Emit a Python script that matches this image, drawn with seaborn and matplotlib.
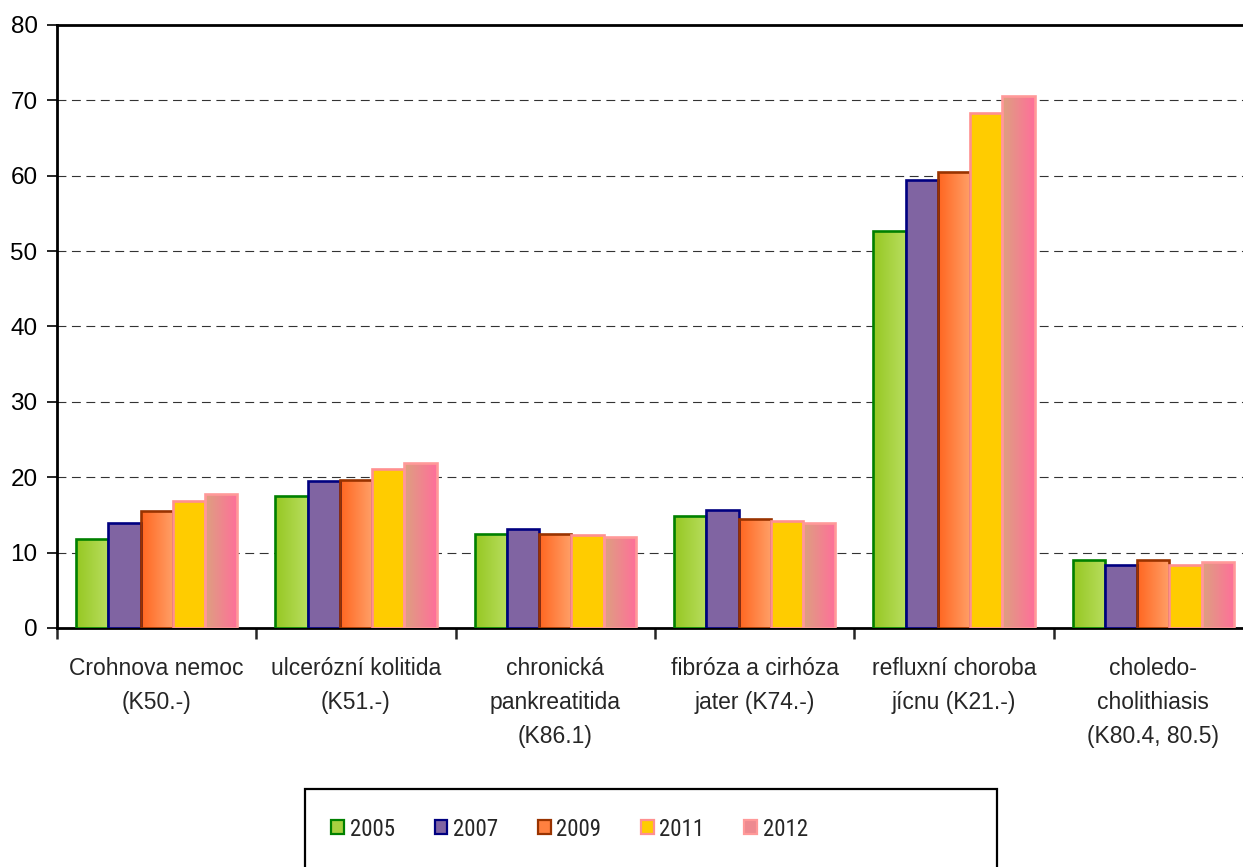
import numpy as np
import pandas as pd
import matplotlib
matplotlib.use("Agg")
import matplotlib.pyplot as plt
import seaborn as sns
from matplotlib.colors import LinearSegmentedColormap
from matplotlib.patches import Patch, Rectangle
from matplotlib import font_manager
from matplotlib.font_manager import FontProperties

# ---------------- data ----------------
categories = [
    "Crohnova nemoc\n(K50.-)",
    "ulcerózní kolitida\n(K51.-)",
    "chronická\npankreatitida\n(K86.1)",
    "fibróza a cirhóza\njater (K74.-)",
    "refluxní choroba\njícnu (K21.-)",
    "choledo-\ncholithiasis\n(K80.4, 80.5)",
]
years = ["2005", "2007", "2009", "2011", "2012"]
v2005 = [11.8, 17.5, 12.5, 14.9, 52.7, 9.0]
v2007 = [13.9, 19.5, 13.1, 15.7, 59.4, 8.3]
v2009 = [15.5, 19.6, 12.5, 14.5, 60.5, 9.0]
v2011 = [16.9, 21.1, 12.3, 14.2, 68.3, 8.3]
v2012 = [17.8, 21.9, 12.1, 13.9, 70.6, 8.7]
yticks = [0, 10, 20, 30, 40, 50, 60, 70, 80]

series = [v2005, v2007, v2009, v2011, v2012]
df = pd.DataFrame({
    "category": np.repeat([categories], len(years), axis=0).ravel(),
    "year": np.repeat(years, len(categories)),
    "value": np.concatenate(series),
})

# ---------------- style ----------------
sns.set_style("white")
plt.rcParams["font.family"] = ["Liberation Sans", "DejaVu Sans"]

# look for a narrow / condensed sans face for the legend
narrow_file = None
for pref in ["Liberation Sans Narrow", "Arial Narrow", "Roboto Condensed",
             "Open Sans Condensed", "DejaVu Sans Condensed", "Noto Sans Condensed"]:
    for f in font_manager.fontManager.ttflist:
        fn = f.fname.lower()
        if (f.name == pref or pref.replace(" ", "").lower() in fn.replace("-", "").replace("_", "")) \
                and "bold" not in fn and "italic" not in fn and "oblique" not in fn:
            narrow_file = f.fname
            break
    if narrow_file:
        break
if narrow_file is None:
    for f in font_manager.fontManager.ttflist:
        fn = f.fname.lower()
        if ("condensed" in fn or "narrow" in fn) and "bold" not in fn and "italic" not in fn \
                and "oblique" not in fn and "light" not in fn and "semi" not in fn:
            narrow_file = f.fname
            break

if narrow_file:
    leg_prop = FontProperties(fname=narrow_file, size=16.5)
    colspace = 1.72
else:
    leg_prop = FontProperties(family=["Liberation Sans", "DejaVu Sans"], size=15)
    colspace = 1.85

flat = {"2005": "#A8D040", "2007": "#8064A2", "2009": "#FF8040",
        "2011": "#FFCC00", "2012": "#EE8A90"}
edges = {"2005": "#008000", "2007": "#000080", "2009": "#993300",
         "2011": "#FF9090", "2012": "#FF9999"}
grads = {"2005": ("#96C823", "#B8DD5E"),
         "2009": ("#FF6620", "#FFA068"),
         "2012": ("#DDA080", "#FF6F9A")}

fig = plt.figure(figsize=(12.43, 8.67), dpi=100)
ax = fig.add_axes([57 / 1243, 239 / 867, 1196 / 1243, 603 / 867])

sns.barplot(data=df, x="category", y="value", hue="year", hue_order=years,
            order=categories, palette=flat, width=0.81, gap=0,
            legend=False, ax=ax, errorbar=None, saturation=1)

# edges + gradients
for year, cont in zip(years, ax.containers):
    for bar in cont:
        bar.set_edgecolor(edges[year])
        bar.set_linewidth(1.9)
        bar.set_zorder(3)
        if year in grads:
            cmap = LinearSegmentedColormap.from_list(year, grads[year])
            x0, y0 = bar.get_x(), bar.get_y()
            w, h = bar.get_width(), bar.get_height()
            im = ax.imshow(np.linspace(0, 1, 64).reshape(1, -1), cmap=cmap,
                           extent=[x0, x0 + w, y0, y0 + h], aspect="auto",
                           interpolation="bilinear", zorder=2.9)
            im.set_clip_path(bar)
            bar.set_facecolor("none")

ax.set_xlim(-0.5, 5.5)
ax.set_ylim(0, 80)
ax.set_aspect("auto")

# grid
for yv in yticks[1:-1]:
    ax.axhline(yv, color="#333333", lw=0.8, ls=(0, (8, 5)), zorder=1)

for s in ["left", "bottom", "top", "right"]:
    ax.spines[s].set_visible(True)
    ax.spines[s].set_color("black")
    ax.spines[s].set_linewidth(2.0)

ax.set_yticks(yticks)
ax.set_yticklabels([str(t) for t in yticks], fontsize=17.5)
ax.tick_params(axis="y", which="major", direction="out", length=7, width=1.2,
               pad=7, left=True, colors="black")

ax.set_xticks(np.arange(-0.5, 6.0, 1.0))
ax.set_xticklabels([""] * 7)
ax.set_xticks(np.arange(len(categories)), categories, minor=True)
ax.tick_params(axis="x", which="major", direction="out", length=8, width=1.8,
               bottom=True)
ax.tick_params(axis="x", which="minor", length=0, pad=21, labelsize=16.5)
for lab in ax.get_xticklabels(minor=True):
    lab.set_linespacing(1.62)
    lab.set_multialignment("center")

ax.set_xlabel("")
ax.set_ylabel("")

# legend
handles = [Patch(facecolor=flat[y], edgecolor=edges[y], linewidth=1.6) for y in years]
leg = fig.legend(handles, years, loc="center left",
                 bbox_to_anchor=(320 / 1243, (867 - 829) / 867), ncol=5,
                 frameon=False, borderpad=0, handlelength=0.62 * 15 / leg_prop.get_size(),
                 handleheight=0.62 * 15 / leg_prop.get_size(),
                 handletextpad=0.25, columnspacing=colspace, prop=leg_prop)

fig.patches.append(Rectangle((305 / 1243, -0.05), (997 - 305) / 1243,
                             0.05 + (867 - 789) / 867, transform=fig.transFigure,
                             facecolor="white", edgecolor="black", lw=1.6,
                             zorder=-1, figure=fig))

fig.savefig("out.png", dpi=100)
